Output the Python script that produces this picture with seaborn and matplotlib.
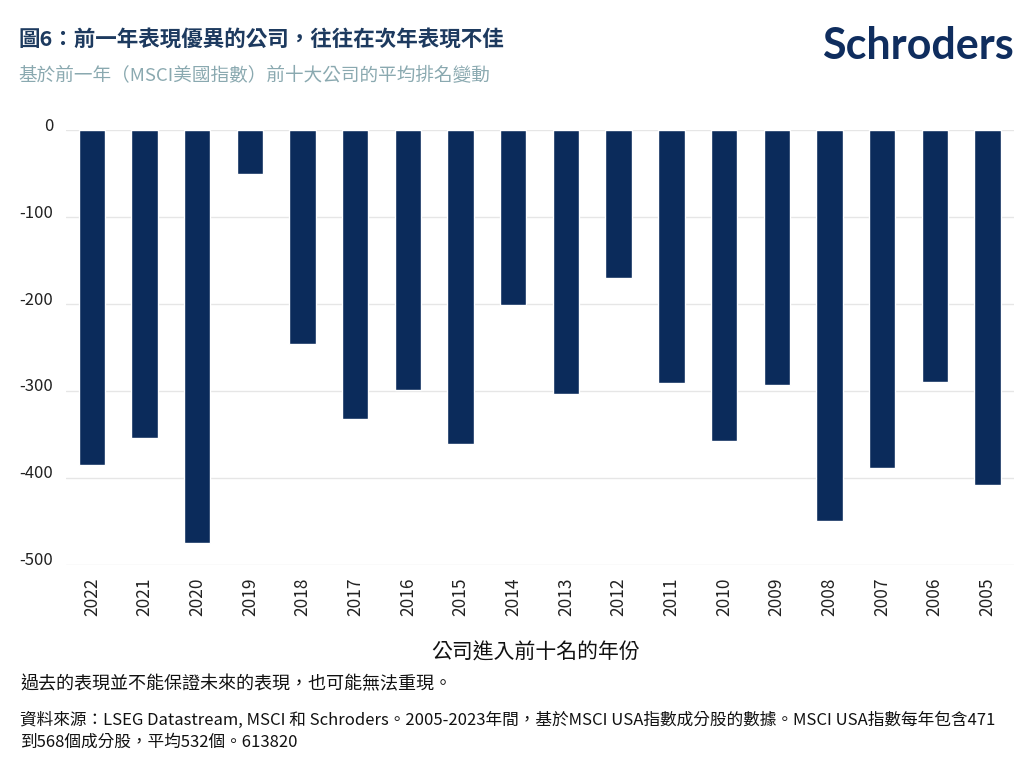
import matplotlib
matplotlib.use("Agg")
import matplotlib.pyplot as plt
import matplotlib.transforms as mtransforms
import seaborn as sns
import pandas as pd

# values
years = ["2022", "2021", "2020", "2019", "2018", "2017", "2016", "2015", "2014",
         "2013", "2012", "2011", "2010", "2009", "2008", "2007", "2006", "2005"]
rank_change = [-385, -354, -475, -50, -246, -332, -299, -361, -201,
               -303, -170, -291, -357, -293, -449, -388, -290, -408]
y_ticks = [0, -100, -200, -300, -400, -500]

title = "圖6：前一年表現優異的公司，往往在次年表現不佳"
subtitle = "基於前一年（MSCI美國指數）前十大公司的平均排名變動"
x_label = "公司進入前十名的年份"
note = "過去的表現並不能保證未來的表現，也可能無法重現。"
source1 = "資料來源：LSEG Datastream, MSCI 和 Schroders。2005-2023年間，基於MSCI USA指數成分股的數據。MSCI USA指數每年包含471"
source2 = "到568個成分股，平均532個。613820"

df = pd.DataFrame({"year": years, "change": rank_change})

sns.set_theme(style="white")
plt.rcParams["font.family"] = ["Noto Sans CJK TC", "DejaVu Sans"]

navy = "#0b2b5b"

fig = plt.figure(figsize=(10.24, 7.64), dpi=100, facecolor="white")
ax = fig.add_axes([0.064, 0.2605, 0.926, 0.5693])

sns.barplot(data=df, x="year", y="change", color=navy, saturation=1,
            width=0.5, ax=ax)

ax.set_ylim(-500, 0)
ax.set_yticks(y_ticks)
ax.set_yticklabels([str(v) for v in y_ticks], fontsize=12, color="#222222")
ax.tick_params(axis="y", length=0, pad=9)
ax.tick_params(axis="x", length=0, pad=9, labelsize=12.5, labelcolor="#222222",
               rotation=90)
# labels sit a little above their gridlines in the original
shift = mtransforms.ScaledTranslation(0, 6 / 100, fig.dpi_scale_trans)
for lbl in ax.get_yticklabels():
    lbl.set_transform(lbl.get_transform() + shift)
ax.yaxis.grid(True, color="#e6e6e6", linewidth=1)
ax.set_axisbelow(True)
for s in ax.spines.values():
    s.set_visible(False)
ax.set_xlabel("")
ax.set_ylabel("")

fig.text(0.018, 0.948, title, fontsize=15.5, fontweight="bold", color="#1d3a5f",
         va="center")
fig.text(0.018, 0.901, subtitle, fontsize=13.4, fontweight="medium",
         color="#8aa9b0", va="center")
fig.text(0.99, 0.94, "Schroders", fontsize=31, fontweight="bold", color="#0f2d5e",
         ha="right", va="center", family="Lato")

fig.text(0.523, 0.146, x_label, fontsize=15, fontweight="medium",
         color="#111111", ha="center", va="center")
fig.text(0.02, 0.104, note, fontsize=13, color="#111111", va="center")
fig.text(0.02, 0.057, source1, fontsize=12, color="#111111", va="center")
fig.text(0.02, 0.029, source2, fontsize=12, color="#111111", va="center")

fig.savefig("out.png", dpi=100, facecolor="white")
